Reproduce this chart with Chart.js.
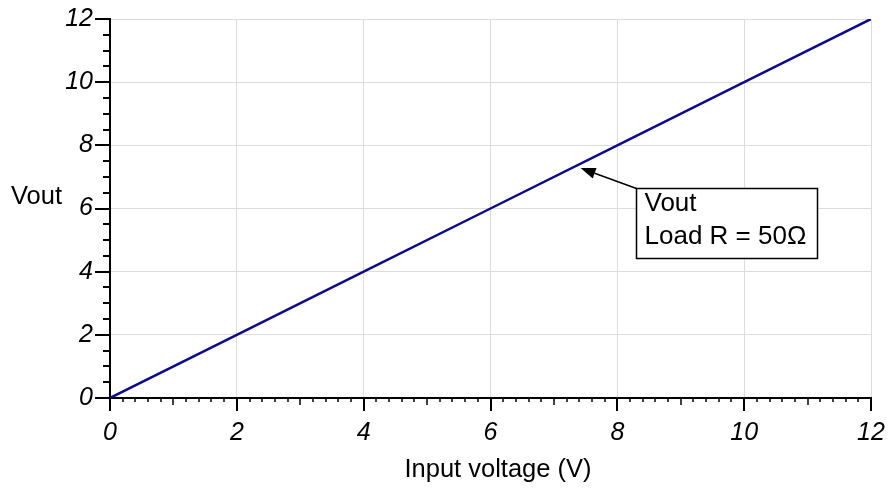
<!DOCTYPE html>
<html lang="en">
<head>
    <meta charset="UTF-8">
    <title>Vout vs Input voltage</title>
    <script src="https://cdn.jsdelivr.net/npm/chart.js"></script>
    <style>
        html, body { margin: 0; padding: 0; background: #fff; }
        canvas { display: block; }
    </style>
</head>
<body>
    <canvas id="voutChart" width="891" height="489"></canvas>

    <script>
        // Data
        const inputVoltage = [0, 2, 4, 6, 8, 10, 12];
        const vout = [0, 2, 4, 6, 8, 10, 12];
        const xTicks = [0, 2, 4, 6, 8, 10, 12];
        const yTicks = [0, 2, 4, 6, 8, 10, 12];
        const xTitle = 'Input voltage (V)';
        const yTitle = 'Vout';
        const noteLines = ['Vout', 'Load R = 50\u03A9'];
        const noteTip = [7.42, 7.28];   // where the arrow points (data units)
        const noteCorner = [8.3, 6.65]; // top-left of the note box (data units)

        const FONT = "'Liberation Sans', Arial, sans-serif";

        // no extra room for edge labels, the chart area is fixed by layout padding
        function noEdgePadding(scale) {
            scale.paddingLeft = 0;
            scale.paddingRight = 0;
            scale.paddingTop = 0;
            scale.paddingBottom = 0;
        }

        // Tick marks (major + minor), axis titles and the note box
        const extras = {
            id: 'extras',
            afterDraw(chart) {
                const ctx = chart.ctx;
                const xs = chart.scales.x;
                const ys = chart.scales.y;
                const area = chart.chartArea;
                ctx.save();
                ctx.strokeStyle = '#000';

                // x ticks, every 0.2, pointing down
                for (let i = 0; i <= 60; i++) {
                    const v = i * 0.2;
                    const px = Math.round(xs.getPixelForValue(v));
                    let len = 4, w = 1.5;
                    if (i % 10 === 0) { len = 13; w = 2; }
                    else if (i % 5 === 0) { len = 7; }
                    ctx.lineWidth = w;
                    ctx.beginPath();
                    ctx.moveTo(px, area.bottom);
                    ctx.lineTo(px, area.bottom + len);
                    ctx.stroke();
                }

                // y ticks, every 0.5, pointing left
                for (let i = 0; i <= 24; i++) {
                    const v = i * 0.5;
                    const py = Math.round(ys.getPixelForValue(v));
                    const major = i % 4 === 0;
                    ctx.lineWidth = 2;
                    ctx.beginPath();
                    ctx.moveTo(area.left, py);
                    ctx.lineTo(area.left - (major ? 15 : 7), py);
                    ctx.stroke();
                }

                // axis titles
                ctx.fillStyle = '#000';
                ctx.font = '25.5px ' + FONT;
                ctx.textBaseline = 'alphabetic';
                ctx.textAlign = 'left';
                ctx.fillText(yTitle, 11, 204);
                ctx.textAlign = 'center';
                ctx.fillText(xTitle, 498, 477);

                // note box
                const bx = Math.round(xs.getPixelForValue(noteCorner[0])) + 0.5;
                const by = Math.round(ys.getPixelForValue(noteCorner[1])) + 0.5;
                const bw = 181, bh = 70;
                ctx.fillStyle = '#fff';
                ctx.fillRect(bx, by, bw, bh);
                ctx.lineWidth = 1.5;
                ctx.strokeRect(bx, by, bw, bh);
                ctx.fillStyle = '#000';
                ctx.textAlign = 'left';
                ctx.font = '26px ' + FONT;
                ctx.fillText(noteLines[0], bx + 8, by + 22);
                ctx.fillText(noteLines[1], bx + 8, by + 55);

                // arrow
                const tx = xs.getPixelForValue(noteTip[0]);
                const ty = ys.getPixelForValue(noteTip[1]);
                const ang = Math.atan2(ty - by, tx - bx);
                const headLen = 15, headW = 5.5;
                const hx = tx - headLen * Math.cos(ang);
                const hy = ty - headLen * Math.sin(ang);
                ctx.lineWidth = 1.5;
                ctx.beginPath();
                ctx.moveTo(bx, by);
                ctx.lineTo(hx, hy);
                ctx.stroke();
                ctx.beginPath();
                ctx.moveTo(tx, ty);
                ctx.lineTo(hx + headW * Math.sin(ang), hy - headW * Math.cos(ang));
                ctx.lineTo(hx - headW * Math.sin(ang), hy + headW * Math.cos(ang));
                ctx.closePath();
                ctx.fill();

                ctx.restore();
            }
        };

        const ctx = document.getElementById('voutChart').getContext('2d');
        const voutChart = new Chart(ctx, {
            type: 'line',
            data: {
                datasets: [{
                    label: 'Vout',
                    data: inputVoltage.map((x, i) => ({ x: x, y: vout[i] })),
                    borderColor: '#0b0b8a',
                    borderWidth: 2.5,
                    pointRadius: 0,
                    fill: false,
                    tension: 0
                }]
            },
            options: {
                responsive: false,
                devicePixelRatio: 1,
                animation: false,
                layout: { padding: { left: 0, right: 20, top: 19, bottom: 0 } },
                plugins: {
                    legend: { display: false },
                    tooltip: { enabled: false }
                },
                scales: {
                    x: {
                        type: 'linear',
                        min: 0,
                        max: 12,
                        afterBuildTicks: (scale) => { scale.ticks = xTicks.map(v => ({ value: v })); },
                        afterFit: (scale) => { scale.height = 91; noEdgePadding(scale); },
                        grid: { color: '#dcdcdc', lineWidth: 1, drawTicks: false },
                        border: { color: '#000', width: 2 },
                        ticks: {
                            color: '#000',
                            padding: 20,
                            maxRotation: 0,
                            font: { family: FONT, size: 25, style: 'italic' }
                        }
                    },
                    y: {
                        type: 'linear',
                        min: 0,
                        max: 12,
                        afterBuildTicks: (scale) => { scale.ticks = yTicks.map(v => ({ value: v })); },
                        afterFit: (scale) => { scale.width = 110; noEdgePadding(scale); },
                        grid: { color: '#dcdcdc', lineWidth: 1, drawTicks: false },
                        border: { color: '#000', width: 2 },
                        ticks: {
                            color: '#000',
                            padding: 17,
                            font: { family: FONT, size: 25, style: 'italic' }
                        }
                    }
                }
            },
            plugins: [extras]
        });
    </script>
</body>
</html>
